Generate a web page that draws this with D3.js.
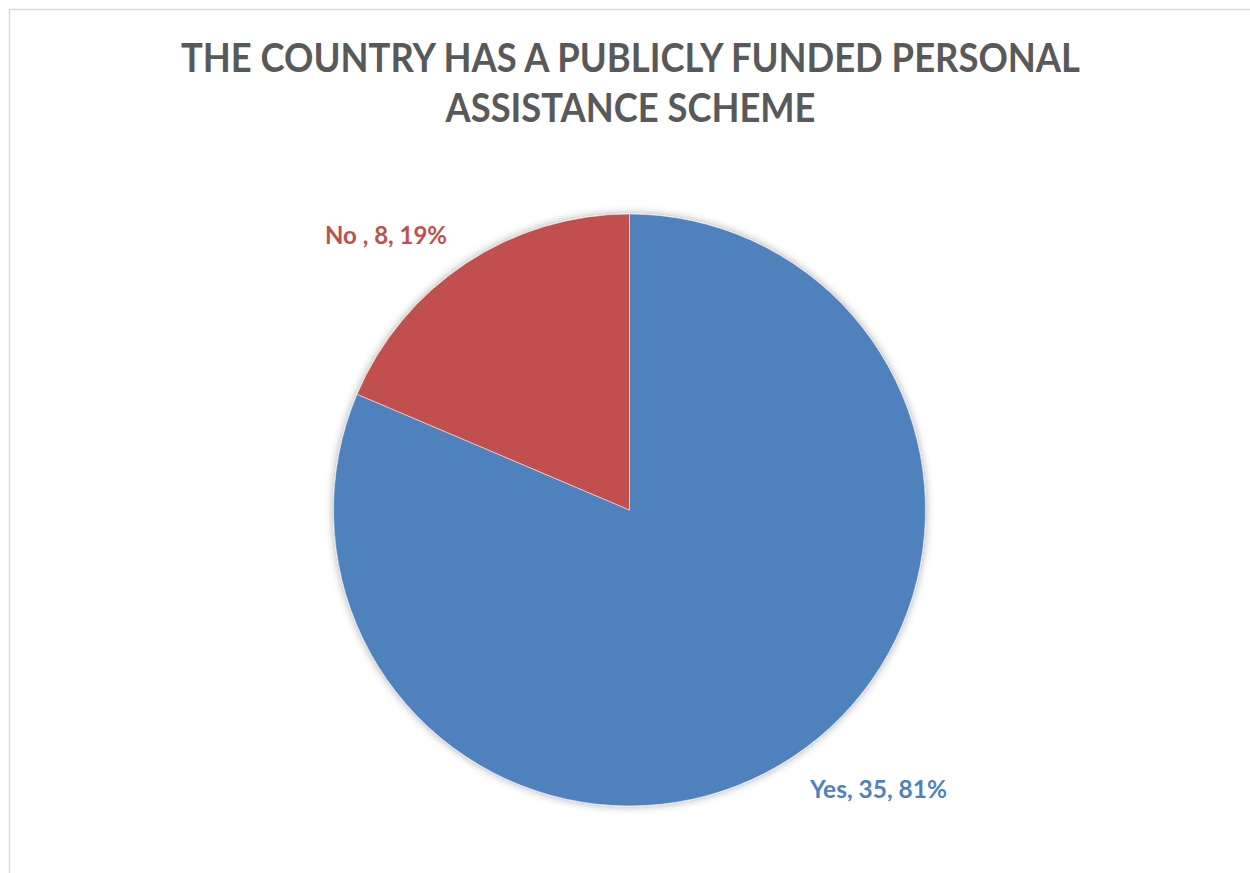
<!DOCTYPE html>
<html><head><meta charset="utf-8">
<script src="https://cdn.jsdelivr.net/npm/d3@7"></script>
<style>body{margin:0;background:#fff;}svg{display:block;}</style>
</head><body>
<script>
const categories = ["Yes", "No "];
const values = [35, 8];
const percents = ["81%", "19%"];
const colors = ["#4F81BD", "#C0504D"];
const titleLines = ["THE COUNTRY HAS A PUBLICLY FUNDED PERSONAL", "ASSISTANCE SCHEME"];

const W = 1250, H = 873;
const svg = d3.select("body").append("svg").attr("width", W).attr("height", H);

const defs = svg.append("defs");
const f = defs.append("filter").attr("id", "sh").attr("x", "-20%").attr("y", "-20%").attr("width", "140%").attr("height", "140%");
f.append("feDropShadow").attr("dx", 0).attr("dy", 0).attr("stdDeviation", 4).attr("flood-color", "#000").attr("flood-opacity", 0.35);

svg.append("rect").attr("x", 9.5).attr("y", 9.5).attr("width", 1250).attr("height", 880)
  .attr("fill", "#fff").attr("stroke", "#d9d9d9").attr("stroke-width", 1.5);

const font = "Lato, 'Open Sans', sans-serif";
const title = svg.append("g");
const tl = [{t: titleLines[0], y: 72, w: 899}, {t: titleLines[1], y: 122, w: 370}];
tl.forEach(d => {
  title.append("text").attr("x", 630.5).attr("y", d.y).attr("text-anchor", "middle")
    .attr("font-family", font).attr("font-weight", "bold").attr("font-size", 41)
    .attr("fill", "#595959").attr("textLength", d.w).attr("lengthAdjust", "spacingAndGlyphs").text(d.t);
});

const cx = 629.5, cy = 510, r = 296;
const pie = d3.pie().sort(null).value(d => d)(values);
const arc = d3.arc().innerRadius(0).outerRadius(r);
const g = svg.append("g").attr("transform", `translate(${cx},${cy})`);
g.append("g").attr("filter", "url(#sh)").selectAll("path").data(pie).join("path")
  .attr("d", arc).attr("fill", (d, i) => colors[i])
  .attr("stroke", "#fff").attr("stroke-width", 0.5);

const labels = [
  {x: 810, y: 798, w: 137},
  {x: 325, y: 244, w: 122}
];
categories.forEach((c, i) => {
  svg.append("text").attr("x", labels[i].x).attr("y", labels[i].y)
    .attr("font-family", font).attr("font-weight", "bold").attr("font-size", 24)
    .attr("fill", colors[i]).attr("textLength", labels[i].w).attr("lengthAdjust", "spacingAndGlyphs")
    .text(`${c}, ${values[i]}, ${percents[i]}`);
});
</script>
</body></html>
